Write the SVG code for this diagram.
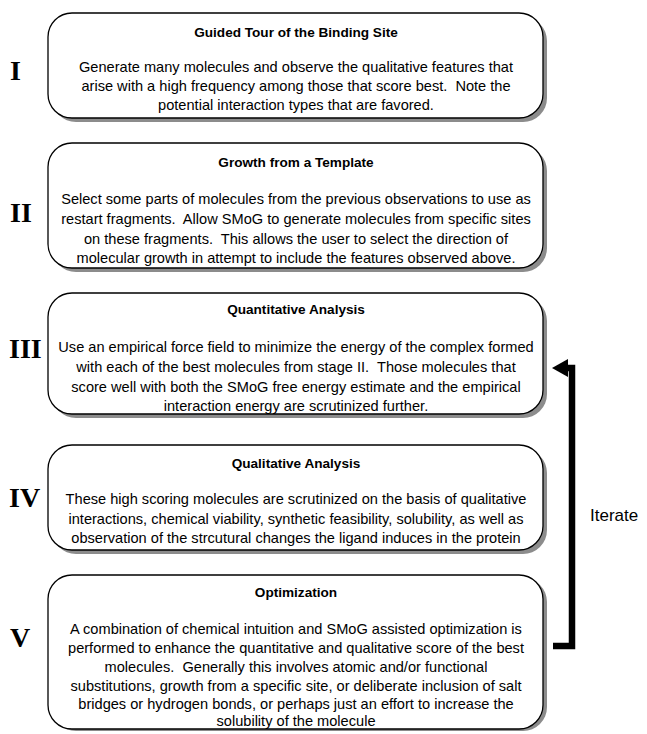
<svg xmlns="http://www.w3.org/2000/svg" width="647" height="734" viewBox="0 0 647 734">
<style>
.box{fill:#fff;stroke:#000;stroke-width:1.3}
.shadow{fill:#8c8c8c}
.title{font-family:"Liberation Sans",Arial,sans-serif;font-size:13.6px;font-weight:bold;text-anchor:middle;fill:#000}
.body{font-family:"Liberation Sans",Arial,sans-serif;font-size:14.6px;text-anchor:middle;fill:#000;white-space:pre}
.num{font-family:"Liberation Serif","Times New Roman",serif;font-size:28px;font-weight:bold;fill:#000}
.lbl{font-family:"Liberation Sans",Arial,sans-serif;font-size:17px;fill:#000}
.conn{fill:none;stroke:#000;stroke-width:6.5;stroke-linejoin:miter}
</style>
<rect width="647" height="734" fill="#fff"/>
<g id="stage-I">
<rect class="shadow" x="52" y="17" width="495" height="105" rx="24"/>
<rect class="box" x="48" y="13" width="495" height="105" rx="24"/>
<text class="title" x="296" y="37">Guided Tour of the Binding Site</text>
<text class="body" x="296" y="72" xml:space="preserve">Generate many molecules and observe the qualitative features that</text>
<text class="body" x="296" y="91" xml:space="preserve">arise with a high frequency among those that score best.  Note the</text>
<text class="body" x="296" y="110" xml:space="preserve">potential interaction types that are favored.</text>
<text class="num" x="10" y="80">I</text>
</g>
<g id="stage-II">
<rect class="shadow" x="52" y="147" width="495" height="125" rx="24"/>
<rect class="box" x="48" y="143" width="495" height="125" rx="24"/>
<text class="title" x="296" y="167">Growth from a Template</text>
<text class="body" x="296" y="204" xml:space="preserve">Select some parts of molecules from the previous observations to use as</text>
<text class="body" x="296" y="224" xml:space="preserve">restart fragments.  Allow SMoG to generate molecules from specific sites</text>
<text class="body" x="296" y="244" xml:space="preserve">on these fragments.  This allows the user to select the direction of</text>
<text class="body" x="296" y="263" xml:space="preserve">molecular growth in attempt to include the features observed above.</text>
<text class="num" x="10" y="222">II</text>
</g>
<g id="stage-III">
<rect class="shadow" x="52" y="297" width="495" height="121" rx="24"/>
<rect class="box" x="48" y="293" width="495" height="121" rx="24"/>
<text class="title" x="296" y="314">Quantitative Analysis</text>
<text class="body" x="296" y="352" xml:space="preserve">Use an empirical force field to minimize the energy of the complex formed</text>
<text class="body" x="296" y="372" xml:space="preserve">with each of the best molecules from stage II.  Those molecules that</text>
<text class="body" x="296" y="392" xml:space="preserve">score well with both the SMoG free energy estimate and the empirical</text>
<text class="body" x="296" y="411" xml:space="preserve">interaction energy are scrutinized further.</text>
<text class="num" x="9" y="358">III</text>
</g>
<g id="stage-IV">
<rect class="shadow" x="52" y="449" width="495" height="105" rx="24"/>
<rect class="box" x="48" y="445" width="495" height="105" rx="24"/>
<text class="title" x="296" y="468">Qualitative Analysis</text>
<text class="body" x="296" y="504" xml:space="preserve">These high scoring molecules are scrutinized on the basis of qualitative</text>
<text class="body" x="296" y="524" xml:space="preserve">interactions, chemical viability, synthetic feasibility, solubility, as well as</text>
<text class="body" x="296" y="543" xml:space="preserve">observation of the strcutural changes the ligand induces in the protein</text>
<text class="num" x="9" y="507">IV</text>
</g>
<g id="stage-V">
<rect class="shadow" x="52" y="578" width="495" height="153" rx="24"/>
<rect class="box" x="48" y="575" width="495" height="154" rx="24"/>
<text class="title" x="296" y="597">Optimization</text>
<text class="body" x="296" y="634" xml:space="preserve">A combination of chemical intuition and SMoG assisted optimization is</text>
<text class="body" x="296" y="653" xml:space="preserve">performed to enhance the quantitative and qualitative score of the best</text>
<text class="body" x="296" y="672" xml:space="preserve">molecules.  Generally this involves atomic and/or functional</text>
<text class="body" x="296" y="691" xml:space="preserve">substitutions, growth from a specific site, or deliberate inclusion of salt</text>
<text class="body" x="296" y="709" xml:space="preserve">bridges or hydrogen bonds, or perhaps just an effort to increase the</text>
<text class="body" x="296" y="726" xml:space="preserve">solubility of the molecule</text>
<text class="num" x="10" y="647">V</text>
</g>
<g id="connectors">
<path class="conn" d="M553 646 H572 V368 H566"/>
<polygon points="552,368 568,359 568,377" fill="#000"/>
<text class="lbl" x="590" y="521">Iterate</text>
</g>
</svg>
